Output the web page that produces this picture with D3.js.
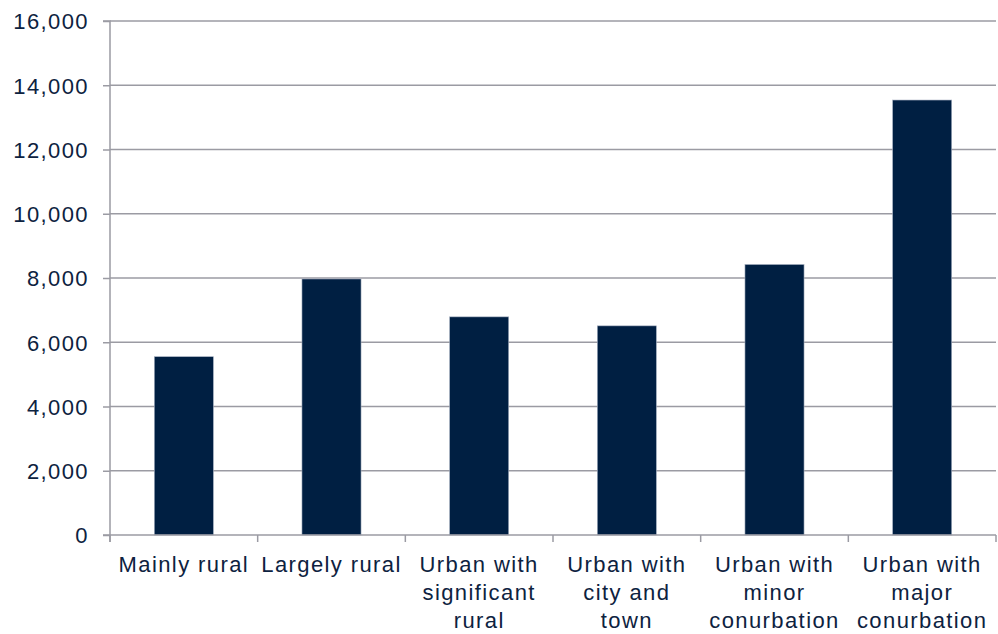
<!DOCTYPE html>
<html><head><meta charset="utf-8">
<script src="https://cdn.jsdelivr.net/npm/d3@7"></script>
<style>body{margin:0;background:#fff}svg{display:block}text{font-family:"Liberation Sans",Arial,sans-serif}</style>
</head><body><svg id="c" width="998" height="634"></svg>
<script>
const categories = ["Mainly rural","Largely rural","Urban with significant rural","Urban with city and town","Urban with minor conurbation","Urban with major conurbation"];
const labelLines = [["Mainly rural"],["Largely rural"],["Urban with","significant","rural"],["Urban with","city and","town"],["Urban with","minor","conurbation"],["Urban with","major","conurbation"]];
const values = [5550, 7970, 6790, 6510, 8420, 13540];
const yTicks = [0,2000,4000,6000,8000,10000,12000,14000,16000];

const svg = d3.select("#c");
const L = 110, R = 996, T = 21, B = 535;
const textColor = "#0d2240", gridColor = "#9b9ba3", barColor = "#001f42";
const x = d3.scaleBand().domain(categories).range([L, R]).padding(0);
const y = d3.scaleLinear().domain([0, 16000]).range([B, T]);

// gridlines
svg.append("g").selectAll("line").data(yTicks.slice(1)).join("line")
  .attr("x1", L).attr("x2", R).attr("y1", d => y(d)).attr("y2", d => y(d))
  .attr("stroke", gridColor).attr("stroke-width", 1.5);

// bars
const bw = x.bandwidth() * 0.4;
svg.append("g").selectAll("rect").data(values).join("rect")
  .attr("x", (d, i) => x(categories[i]) + x.bandwidth() / 2 - bw / 2)
  .attr("width", bw)
  .attr("y", d => y(d)).attr("height", d => B - y(d))
  .attr("fill", barColor).attr("stroke", "#a6b0c0").attr("stroke-width", 0.6);

// y axis
const ya = svg.append("g").attr("transform", `translate(${L},0)`)
  .call(d3.axisLeft(y).tickValues(yTicks).tickSize(7).tickPadding(14).tickFormat(d3.format(",")));
ya.select(".domain").attr("stroke", gridColor).attr("stroke-width", 1.5).attr("d", `M-7,${T}H0V${B+7}`);
ya.selectAll(".tick line").attr("stroke", gridColor).attr("stroke-width", 1.5);
ya.selectAll(".tick text").attr("fill", textColor).attr("font-size", 22).attr("letter-spacing", 1.4)
  .attr("font-family", '"Liberation Sans",Arial,sans-serif').attr("dy", "0.36em");

// x axis
const xa = svg.append("g").attr("transform", `translate(0,${B})`);
xa.append("line").attr("x1", L - 7).attr("x2", R).attr("stroke", gridColor).attr("stroke-width", 1.5);
const bounds = categories.map(c => x(c)).concat([R]);
xa.selectAll("line.tk").data(bounds).join("line").attr("class", "tk")
  .attr("x1", d => d).attr("x2", d => d).attr("y1", 0).attr("y2", 7)
  .attr("stroke", gridColor).attr("stroke-width", 1.5);
const lab = xa.selectAll("text.cat").data(categories).join("text").attr("class", "cat")
  .attr("x", d => x(d) + x.bandwidth() / 2).attr("y", 37)
  .attr("text-anchor", "middle").attr("fill", textColor).attr("font-size", 22).attr("letter-spacing", 1.4);
lab.each(function(d, i) {
  const t = d3.select(this);
  labelLines[i].forEach((ln, j) => {
    t.append("tspan").attr("x", x(d) + x.bandwidth() / 2).attr("dy", j === 0 ? 0 : 28).text(ln);
  });
});
</script></body></html>
